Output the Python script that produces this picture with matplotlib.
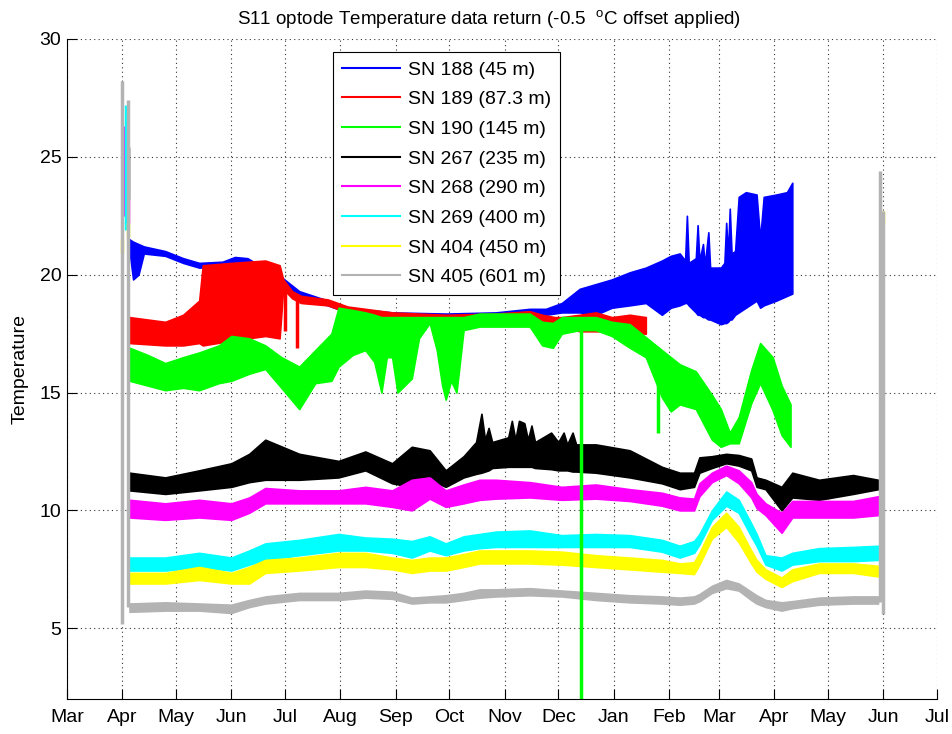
import numpy as np
import pandas as pd
import matplotlib
matplotlib.use('Agg')
import matplotlib.pyplot as plt
import matplotlib.dates as mdates
from matplotlib.lines import Line2D

plt.rcParams['font.family'] = ['Liberation Sans', 'DejaVu Sans']
plt.rcParams['mathtext.fontset'] = 'custom'
plt.rcParams['mathtext.rm'] = 'Liberation Sans'

labels = ['SN 188 (45 m)', 'SN 189 (87.3 m)', 'SN 190 (145 m)', 'SN 267 (235 m)',
          'SN 268 (290 m)', 'SN 269 (400 m)', 'SN 404 (450 m)', 'SN 405 (601 m)']
colors = ['#0000ff', '#ff0000', '#00ff00', '#000000',
          '#ff00ff', '#00ffff', '#ffff00', '#b3b3b3']

# shallow sensors: upper / lower edge of the noisy trace
t188 = ['2010-04-05', '2010-04-07', '2010-04-10', '2010-04-13', '2010-04-25', '2010-05-05',
        '2010-05-14', '2010-05-27', '2010-06-03', '2010-06-10', '2010-06-20', '2010-06-29',
        '2010-07-09', '2010-07-25', '2010-08-05', '2010-08-30', '2010-09-29', '2010-10-27',
        '2010-11-15', '2010-11-24', '2010-12-03', '2010-12-13', '2010-12-22', '2010-12-31',
        '2011-01-10', '2011-01-19', '2011-01-28', '2011-02-02', '2011-02-07', '2011-02-10',
        '2011-02-11', '2011-02-12', '2011-02-16', '2011-02-17', '2011-02-18', '2011-02-20',
        '2011-02-21', '2011-02-23', '2011-02-24', '2011-03-02', '2011-03-04', '2011-03-05',
        '2011-03-06', '2011-03-07', '2011-03-08', '2011-03-10', '2011-03-12', '2011-03-16',
        '2011-03-22', '2011-03-24', '2011-03-26', '2011-04-02', '2011-04-08', '2011-04-11']
hi188 = [21.5, 21.4, 21.3, 21.2, 21.0, 20.7, 20.5, 20.55, 20.75, 20.7, 20.25, 19.9,
         19.3, 18.9, 18.6, 18.4, 18.35, 18.4, 18.55, 18.55, 18.8, 19.4, 19.6, 19.8,
         20.1, 20.3, 20.6, 20.8, 20.9, 20.6, 22.5, 20.5, 20.7, 22.1, 20.6, 21.3,
         20.4, 21.8, 20.3, 20.3, 20.5, 22.2, 20.8, 22.8, 20.9, 21.0, 23.3, 23.5,
         23.4, 21.5, 23.3, 23.4, 23.5, 23.9]
lo188 = [21.0, 19.8, 20.0, 20.9, 20.8, 20.5, 20.3, 20.35, 20.55, 20.45, 20.05, 19.6,
         19.05, 18.7, 18.4, 18.2, 18.15, 18.2, 18.35, 18.3, 18.4, 18.4, 18.3, 18.6,
         18.7, 18.8, 18.3, 18.6, 18.7, 18.8, 18.8, 18.7, 18.4, 18.3, 18.3, 18.2,
         18.2, 18.1, 18.1, 17.9, 17.95, 17.95, 18.0, 18.1, 18.1, 18.3, 18.4, 18.6,
         18.9, 18.6, 18.7, 18.9, 19.1, 19.2]

t189 = ['2010-04-05', '2010-04-25', '2010-05-05', '2010-05-14', '2010-05-16', '2010-06-01',
        '2010-06-20', '2010-06-28', '2010-06-30', '2010-07-05', '2010-07-10',
        '2010-07-25', '2010-08-05', '2010-08-30', '2010-09-29', '2010-10-27', '2010-11-15',
        '2010-11-22', '2010-11-29', '2010-12-03', '2010-12-13', '2010-12-22', '2010-12-31',
        '2011-01-10', '2011-01-19']
hi189 = [18.2, 18.0, 18.3, 18.9, 20.4, 20.5, 20.6, 20.4, 19.8, 19.3, 19.1,
         18.95, 18.65, 18.4, 18.3, 18.35, 18.45, 18.3, 18.2, 18.2, 18.3, 18.4, 18.2,
         18.3, 18.2]
lo189 = [17.1, 17.0, 17.0, 17.1, 17.0, 17.2, 17.4, 17.3, 19.4, 19.0, 18.8,
         18.7, 18.4, 18.2, 18.1, 18.1, 18.2, 17.6, 17.7, 17.8, 17.6, 17.6, 17.6,
         17.5, 17.5]

t190 = ['2010-04-05', '2010-04-15', '2010-04-25', '2010-05-05', '2010-05-14', '2010-05-25',
        '2010-06-01', '2010-06-11', '2010-06-20', '2010-06-29', '2010-07-09', '2010-07-18',
        '2010-07-27', '2010-07-31', '2010-08-08', '2010-08-15', '2010-08-20', '2010-08-24',
        '2010-08-27', '2010-08-30', '2010-09-02', '2010-09-06', '2010-09-10', '2010-09-14',
        '2010-09-20', '2010-09-24', '2010-09-27', '2010-09-29', '2010-10-02', '2010-10-05',
        '2010-10-09', '2010-10-18', '2010-11-15', '2010-11-22', '2010-11-28', '2010-12-03',
        '2010-12-13', '2010-12-22', '2010-12-31', '2011-01-10', '2011-01-19', '2011-01-28',
        '2011-02-02', '2011-02-07', '2011-02-16', '2011-02-25', '2011-03-02', '2011-03-07',
        '2011-03-12', '2011-03-19', '2011-03-24', '2011-03-31', '2011-04-05', '2011-04-10']
hi190 = [16.9, 16.6, 16.25, 16.5, 16.7, 17.0, 17.4, 17.3, 17.0, 16.5, 16.1, 16.8,
         17.5, 18.6, 18.5, 18.4, 18.3, 18.2, 18.2, 18.2, 18.2, 18.2, 18.2, 18.2,
         18.2, 18.2, 18.2, 18.2, 18.2, 18.2, 18.2, 18.35, 18.35, 18.0, 17.95, 18.2,
         18.2, 18.2, 18.0, 17.9, 17.35, 16.8, 16.5, 16.2, 15.9, 14.9, 14.3, 13.3,
         13.95, 15.95, 17.1, 16.5, 15.3, 14.5]
lo190 = [15.5, 15.3, 15.1, 15.2, 15.1, 15.4, 15.5, 15.8, 16.0, 15.2, 14.3, 15.4,
         15.5, 16.1, 16.6, 16.8, 16.3, 15.0, 16.5, 16.5, 15.0, 15.3, 15.6, 17.3,
         17.95, 16.8, 15.3, 14.7, 15.5, 15.0, 17.65, 17.8, 17.8, 17.0, 16.9, 17.5,
         17.65, 17.65, 17.4, 16.9, 16.5, 14.8, 14.2, 14.5, 14.3, 13.0, 12.7, 12.85,
         12.85, 14.55, 15.4, 14.25, 13.2, 12.7]

t267 = ['2010-04-05', '2010-04-25', '2010-05-14', '2010-06-01', '2010-06-11', '2010-06-20',
        '2010-07-09', '2010-07-31', '2010-08-15', '2010-08-30', '2010-09-10', '2010-09-20',
        '2010-09-29', '2010-10-09', '2010-10-16', '2010-10-19', '2010-10-21', '2010-10-23',
        '2010-10-25', '2010-11-03', '2010-11-05', '2010-11-07', '2010-11-09', '2010-11-12',
        '2010-11-14', '2010-11-16', '2010-11-18', '2010-11-27', '2010-12-01', '2010-12-04',
        '2010-12-06', '2010-12-09', '2010-12-11', '2010-12-22', '2011-01-10', '2011-01-28',
        '2011-02-07', '2011-02-15', '2011-02-18', '2011-02-25', '2011-03-05', '2011-03-12',
        '2011-03-19', '2011-03-22', '2011-03-27', '2011-04-05', '2011-04-11', '2011-04-26',
        '2011-05-15', '2011-05-29']
hi267 = [11.6, 11.4, 11.7, 12.0, 12.4, 13.0, 12.4, 12.1, 12.5, 12.0, 12.7, 12.55,
         11.7, 12.3, 12.9, 14.1, 13.0, 13.5, 12.9, 13.1, 13.8, 13.0, 13.8, 13.7,
         13.0, 13.6, 12.9, 13.3, 12.9, 13.3, 12.8, 13.3, 12.8, 12.8, 12.55, 11.85,
         11.6, 11.6, 12.25, 12.3, 12.4, 12.35, 12.2, 11.4, 11.3, 11.0, 11.6, 11.3,
         11.5, 11.3]
lo267 = [10.85, 10.7, 10.85, 11.0, 11.2, 11.3, 11.3, 11.4, 11.7, 11.15, 11.0, 11.3,
         11.0, 11.4, 11.55, 11.6, 11.65, 11.7, 11.8, 11.85, 11.85, 11.85, 11.85, 11.85,
         11.85, 11.85, 11.8, 11.75, 11.7, 11.7, 11.7, 11.65, 11.65, 11.6, 11.4, 11.15,
         10.9, 11.0, 11.6, 11.8, 12.0, 11.9, 11.7, 11.0, 10.9, 10.0, 10.55, 10.45,
         10.7, 10.9]

# remaining deep sensors share one set of dates
t_deep = ['2010-04-05', '2010-04-25', '2010-05-14', '2010-06-01', '2010-06-11', '2010-06-20',
          '2010-07-09', '2010-07-31', '2010-08-15', '2010-08-30', '2010-09-10', '2010-09-20',
          '2010-09-29', '2010-10-09', '2010-10-18', '2010-10-27', '2010-11-15', '2010-12-03',
          '2010-12-22', '2011-01-10', '2011-01-28', '2011-02-07', '2011-02-15', '2011-02-18',
          '2011-02-25', '2011-03-05', '2011-03-12', '2011-03-19', '2011-03-22', '2011-03-27',
          '2011-04-05', '2011-04-11', '2011-04-26', '2011-05-15', '2011-05-29']
hi268 = [10.45, 10.3, 10.45, 10.3, 10.55, 10.95, 10.85, 10.85, 11.0, 10.85, 11.3, 11.4,
         10.85, 11.1, 11.3, 11.3, 11.2, 11.0, 11.1, 10.9, 10.75, 10.55, 10.5, 11.15,
         11.6, 11.9, 11.7, 11.2, 10.7, 10.3, 9.9, 10.4, 10.4, 10.4, 10.6]
lo268 = [9.7, 9.6, 9.7, 9.6, 9.9, 10.3, 10.3, 10.3, 10.3, 10.15, 10.0, 10.5,
         10.15, 10.3, 10.45, 10.5, 10.55, 10.45, 10.5, 10.4, 10.2, 10.0, 10.0, 10.6,
         11.2, 11.5, 11.15, 10.55, 10.1, 9.8, 9.05, 9.7, 9.7, 9.7, 9.8]
hi269 = [8.0, 8.0, 8.2, 8.0, 8.3, 8.6, 8.75, 9.0, 8.85, 8.8, 8.7, 8.9,
         8.6, 8.9, 9.0, 9.1, 9.15, 8.95, 9.0, 8.95, 8.75, 8.5, 8.7, 9.0,
         10.0, 10.8, 10.45, 9.45, 9.0, 8.1, 8.0, 8.2, 8.4, 8.45, 8.5]
lo269 = [7.45, 7.45, 7.6, 7.45, 7.7, 7.9, 8.1, 8.3, 8.3, 8.2, 8.0, 8.3,
         8.1, 8.3, 8.4, 8.45, 8.45, 8.45, 8.45, 8.45, 8.25, 8.0, 8.2, 8.55,
         9.6, 10.2, 9.9, 8.9, 8.5, 7.7, 7.45, 7.7, 7.85, 7.85, 7.9]
hi404 = [7.35, 7.35, 7.6, 7.35, 7.6, 7.9, 8.0, 8.2, 8.2, 8.0, 7.9, 8.0,
         8.0, 8.15, 8.3, 8.3, 8.3, 8.25, 8.1, 8.0, 7.9, 7.75, 7.8, 8.2,
         9.3, 9.9, 9.3, 8.3, 7.9, 7.5, 7.15, 7.5, 7.75, 7.75, 7.65]
lo404 = [6.9, 6.9, 7.05, 6.9, 6.9, 7.35, 7.45, 7.6, 7.6, 7.5, 7.35, 7.45,
         7.45, 7.6, 7.75, 7.75, 7.75, 7.7, 7.6, 7.5, 7.4, 7.35, 7.3, 7.7,
         8.8, 9.3, 8.65, 7.75, 7.4, 7.1, 6.75, 7.0, 7.35, 7.35, 7.2]
hi405 = [6.05, 6.1, 6.05, 6.0, 6.2, 6.35, 6.5, 6.5, 6.6, 6.55, 6.3, 6.35,
         6.4, 6.5, 6.65, 6.65, 6.7, 6.6, 6.5, 6.4, 6.35, 6.3, 6.35, 6.45,
         6.8, 7.05, 6.9, 6.55, 6.4, 6.2, 6.1, 6.15, 6.3, 6.35, 6.35]
lo405 = [5.7, 5.75, 5.75, 5.65, 5.9, 6.05, 6.2, 6.2, 6.3, 6.25, 6.05, 6.1,
         6.1, 6.2, 6.3, 6.35, 6.4, 6.35, 6.2, 6.1, 6.05, 6.0, 6.05, 6.15,
         6.5, 6.7, 6.6, 6.2, 6.05, 5.9, 5.75, 5.85, 6.0, 6.05, 6.05]

# single-sample excursions (in air at deployment / recovery, dropouts)
spk188_t, spk188_lo, spk188_hi = [], [], []
spk189_t = ['2010-07-08', '2010-07-01']
spk189_lo = [16.9, 17.6]
spk189_hi = [19.2, 19.6]
spk190_t = ['2010-12-14', '2011-01-26']
spk190_lo = [0.0, 13.3]
spk190_hi = [18.0, 16.5]
spk267_t = ['2010-04-04']
spk267_lo = [23.2]
spk267_hi = [25.4]
spk268_t = ['2010-04-02', '2010-04-04']
spk268_lo = [22.5, 22.2]
spk268_hi = [26.3, 23.2]
spk269_t = ['2010-04-03']
spk269_lo = [21.9]
spk269_hi = [27.2]
spk404_t = ['2010-04-01', '2010-04-04', '2011-06-01']
spk404_lo = [20.9, 21.6, 22.2]
spk404_hi = [21.5, 22.2, 22.7]
spk405_t = ['2010-04-01', '2010-04-04', '2011-05-30', '2011-06-01']
spk405_lo = [5.2, 5.9, 6.1, 5.6]
spk405_hi = [28.2, 27.4, 24.4, 22.7]

bands = [(t188, lo188, hi188), (t189, lo189, hi189), (t190, lo190, hi190),
         (t267, lo267, hi267), (t_deep, lo268, hi268), (t_deep, lo269, hi269),
         (t_deep, lo404, hi404), (t_deep, lo405, hi405)]
spikes = [(spk188_t, spk188_lo, spk188_hi), (spk189_t, spk189_lo, spk189_hi),
          (spk190_t, spk190_lo, spk190_hi), (spk267_t, spk267_lo, spk267_hi),
          (spk268_t, spk268_lo, spk268_hi), (spk269_t, spk269_lo, spk269_hi),
          (spk404_t, spk404_lo, spk404_hi), (spk405_t, spk405_lo, spk405_hi)]

fig, ax = plt.subplots(figsize=(9.53, 7.34), dpi=100)
fig.subplots_adjust(left=0.0703, right=0.9832, bottom=0.0477, top=0.9469)

for (t, lo, hi), (st, slo, shi), c in zip(bands, spikes, colors):
    ax.fill_between(pd.to_datetime(t), lo, hi, color=c, edgecolor=c, lw=1.2)
    if st:
        ax.vlines(pd.to_datetime(st), slo, shi, color=c, lw=2.5)

ax.set_xlim(pd.Timestamp('2010-03-01'), pd.Timestamp('2011-07-01'))
ax.set_ylim(2, 30)
ax.xaxis.set_major_locator(mdates.MonthLocator())
ax.xaxis.set_major_formatter(mdates.DateFormatter('%b'))
ax.set_yticks(range(5, 31, 5))
ax.grid(True, color='#333333', lw=0.8, dashes=(1, 3))
ax.set_axisbelow(True)
ax.spines['top'].set_visible(False)
ax.spines['right'].set_visible(False)
ax.tick_params(direction='in', length=7, width=0.8, labelsize=14)
ax.tick_params(axis='x', pad=7)
ax.tick_params(axis='y', pad=4)

ax.set_ylabel('Temperature', fontsize=14, labelpad=8)
ax.set_title(r'S11 optode Temperature data return (-0.5  $^{\mathrm{o}}$C offset applied)',
             fontsize=13.5, pad=10, x=0.485)

handles = [Line2D([0], [0], color=c, lw=1.5) for c in colors]
leg = ax.legend(handles, labels, loc='upper left', bbox_to_anchor=(0.3057, 0.980),
                fancybox=False, edgecolor='black', framealpha=1, borderaxespad=0,
                fontsize=14, handlelength=3.0, handletextpad=0.4, labelspacing=0.62,
                borderpad=0.45)
leg.get_frame().set_linewidth(0.8)

fig.savefig('out.png', dpi=100)
